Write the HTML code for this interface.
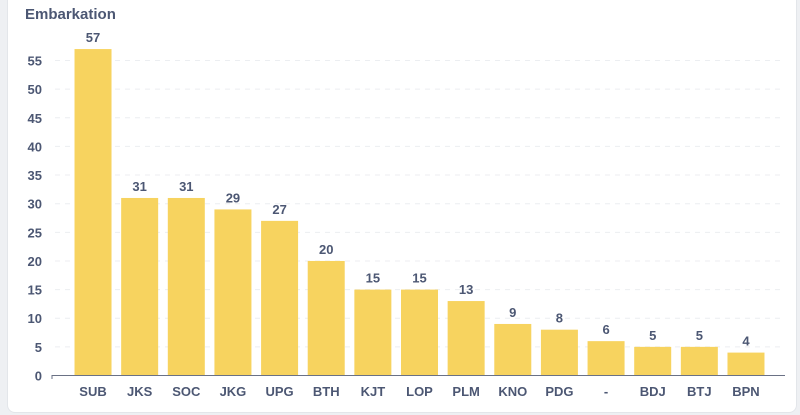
<!DOCTYPE html>
<html><head><meta charset="utf-8"><style>
body{margin:0;width:800px;height:415px;background:#eef0f3;font-family:"Liberation Sans",sans-serif;overflow:hidden}
#card{position:absolute;left:7px;top:-10px;width:788px;height:421px;background:#fff;border-radius:8px;border:1px solid #e3e6ea}
#title{position:absolute;left:25px;top:6px;font-size:15px;font-weight:bold;color:#4c5773}
</style></head><body>
<div id="card"></div>
<div id="title">Embarkation</div>
<svg id="chart" width="800" height="415" style="position:absolute;left:0;top:0"></svg>
<script>
const categories=["SUB","JKS","SOC","JKG","UPG","BTH","KJT","LOP","PLM","KNO","PDG","-","BDJ","BTJ","BPN"];
const values=[57,31,31,29,27,20,15,15,13,9,8,6,5,5,4];
const yTicks=[0,5,10,15,20,25,30,35,40,45,50,55];
const svg=document.getElementById('chart');
const NS='http://www.w3.org/2000/svg';
const x0=52,x1=770,bandStart=69.7,step=46.64,bw=37;
const y=v=>375.5-v*5.727;
const xc=i=>bandStart+step*(i+0.5);
function el(t,a){const e=document.createElementNS(NS,t);for(const k in a)e.setAttribute(k,a[k]);svg.appendChild(e);return e;}
yTicks.forEach(t=>{
 if(t>0){const g=el('line',{x1:x0+3,x2:785,y1:y(t),y2:y(t),stroke:'#eceef1','stroke-dasharray':'5,5'});
 
 }
 const l=el('text',{x:42,y:y(t)+5,'text-anchor':'end','font-size':'13','font-weight':'bold',fill:'#4c5773'});
 l.textContent=t;
 
 
});
categories.forEach((c,i)=>{
 const r=el('rect',{x:xc(i)-bw/2,y:y(values[i]),width:bw,height:y(0)-y(values[i]),fill:'#f7d35f'});
 
 
 const v=el('text',{x:xc(i),y:y(values[i])-7,'text-anchor':'middle','font-size':'13','font-weight':'bold',fill:'#4c5773'});
 v.textContent=values[i];
 
 
 const l=el('text',{x:xc(i),y:396,'text-anchor':'middle','font-size':'13','font-weight':'bold',fill:'#4c5773'});
 l.textContent=c;
 
 
});
const ax=el('path',{d:`M${x0},379V${y(0)}H${x1+15}`,stroke:'#6a7185','stroke-width':1,fill:'none'});


</script>
</body></html>
